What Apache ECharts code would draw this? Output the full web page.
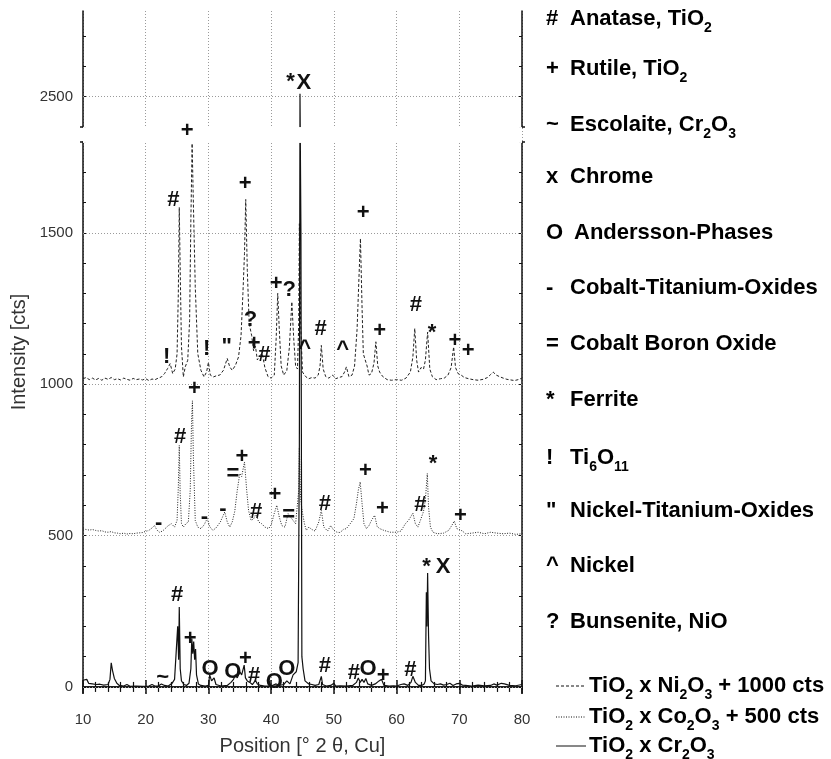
<!DOCTYPE html>
<html>
<head>
<meta charset="utf-8">
<script src="https://cdn.jsdelivr.net/npm/echarts@6/dist/echarts.min.js"></script>
<style>
  html, body { margin: 0; padding: 0; background: #fff; }
  #chart { width: 831px; height: 759px; }
</style>
</head>
<body>
<div id="chart"></div>
<script>
// offsets used for stacking the patterns (see legend)
const niOffset = 1000;
const coOffset = 500;

// TiO2 x Ni2O3, counts before the +1000 offset  [2theta, cts]
const niPattern = [
  [10.0, 18], [10.5, 22], [11.0, 15], [11.5, 20], [12.0, 14], [12.5, 19], [13.0, 13], [13.5, 20],
  [14.0, 16], [14.5, 22], [15.0, 15], [15.5, 18], [16.0, 14], [16.5, 20], [17.0, 16], [17.5, 13],
  [18.0, 19], [18.5, 15], [19.0, 17], [19.5, 14], [20.0, 18], [20.5, 12], [21.0, 17], [21.5, 15],
  [22.0, 20], [22.5, 24], [23.0, 35], [23.5, 52], [23.9, 68], [24.3, 35], [24.7, 50], [25.0, 100],
  [25.2, 300], [25.35, 584], [25.5, 376], [25.7, 125], [26.0, 24], [26.3, 57], [26.7, 79], [27.0, 211],
  [27.2, 542], [27.4, 795], [27.6, 597], [27.9, 322], [28.3, 101], [28.8, 46], [29.3, 24], [29.7, 40],
  [30.0, 72], [30.3, 30], [30.8, 24], [31.3, 28], [31.8, 30], [32.4, 46], [33.0, 85], [33.4, 57],
  [33.8, 46], [34.3, 62], [34.8, 90], [35.2, 160], [35.5, 300], [35.75, 432], [35.95, 610], [36.2, 376],
  [36.5, 200], [36.9, 160], [37.2, 110], [37.5, 125], [37.8, 80], [38.2, 95], [38.6, 100], [39.0, 55],
  [39.5, 25], [40.0, 20], [40.5, 30], [40.8, 150], [41.05, 300], [41.3, 180], [41.6, 60], [42.0, 30],
  [42.5, 45], [42.9, 120], [43.3, 272], [43.6, 150], [43.9, 60], [44.2, 50], [44.4, 200], [44.5, 530],
  [44.7, 200], [45.0, 40], [45.5, 25], [46.0, 18], [46.5, 22], [47.0, 20], [47.5, 30], [47.8, 60],
  [48.0, 128], [48.3, 50], [48.7, 25], [49.2, 20], [49.8, 30], [50.3, 18], [50.8, 22], [51.3, 25],
  [51.7, 40], [52.0, 57], [52.4, 25], [52.9, 30], [53.3, 60], [53.7, 180], [54.0, 350], [54.24, 481],
  [54.5, 250], [54.7, 100], [55.0, 80], [55.3, 60], [55.6, 30], [56.0, 35], [56.4, 70], [56.7, 140],
  [57.0, 60], [57.3, 40], [57.8, 25], [58.5, 15], [59.2, 13], [60.0, 15], [60.8, 13], [61.5, 20],
  [62.2, 40], [62.6, 90], [62.9, 184], [63.2, 80], [63.5, 40], [63.9, 55], [64.3, 50], [64.6, 80],
  [64.95, 172], [65.3, 50], [65.7, 25], [66.3, 15], [67.0, 18], [67.6, 20], [68.2, 30], [68.7, 55],
  [69.1, 123], [69.4, 55], [69.8, 35], [70.3, 30], [70.8, 22], [71.5, 18], [72.2, 15], [73.0, 13],
  [73.8, 16], [74.5, 22], [75.0, 32], [75.4, 40], [75.9, 30], [76.4, 25], [77.0, 20], [77.6, 16],
  [78.2, 14], [78.8, 12], [79.4, 15], [80.0, 20]
];

// TiO2 x Co2O3, counts before the +500 offset
const coPattern = [
  [10.0, 22], [10.5, 20], [11.0, 18], [11.5, 20], [12.0, 17], [12.5, 15], [13.0, 16], [13.5, 12],
  [14.0, 11], [14.5, 13], [15.0, 9], [15.5, 8], [16.0, 6], [16.5, 8], [17.0, 5], [17.5, 7],
  [18.0, 6], [18.5, 8], [19.0, 9], [19.5, 10], [20.0, 14], [20.5, 17], [21.0, 25], [21.4, 33],
  [21.8, 18], [22.2, 11], [22.7, 15], [23.2, 25], [23.6, 33], [24.1, 39], [24.6, 28], [25.0, 50],
  [25.2, 161], [25.35, 298], [25.5, 139], [25.7, 40], [26.0, 28], [26.4, 39], [26.8, 45], [27.1, 150],
  [27.3, 370], [27.45, 445], [27.6, 260], [27.9, 50], [28.3, 28], [28.8, 23], [29.3, 35], [29.8, 56],
  [30.2, 30], [30.7, 17], [31.2, 25], [31.9, 45], [32.6, 78], [33.0, 45], [33.4, 28], [33.8, 45],
  [34.2, 80], [34.6, 150], [35.0, 205], [35.3, 195], [35.75, 243], [36.1, 150], [36.4, 83], [36.8, 50],
  [37.2, 55], [37.6, 73], [38.0, 45], [38.5, 39], [39.0, 28], [39.6, 23], [40.0, 35], [40.5, 73],
  [40.9, 100], [41.3, 61], [41.7, 33], [42.2, 28], [42.7, 73], [43.1, 61], [43.5, 50], [43.9, 39],
  [44.2, 45], [44.4, 150], [44.5, 290], [44.7, 120], [45.0, 75], [45.3, 40], [45.6, 17], [46.0, 28],
  [46.5, 20], [47.0, 15], [47.6, 45], [48.0, 83], [48.4, 28], [49.0, 15], [49.5, 33], [50.0, 17],
  [50.5, 11], [51.0, 10], [51.5, 20], [52.0, 23], [52.6, 39], [53.2, 56], [53.6, 105], [53.9, 150],
  [54.2, 177], [54.5, 105], [54.8, 39], [55.2, 23], [55.6, 33], [56.0, 50], [56.5, 67], [56.9, 30],
  [57.3, 23], [58.0, 17], [59.0, 11], [60.0, 11], [60.7, 15], [61.4, 39], [61.9, 50], [62.6, 74],
  [63.0, 39], [63.4, 28], [63.8, 50], [64.3, 80], [64.6, 120], [64.9, 205], [65.1, 94], [65.4, 28],
  [65.8, 11], [66.5, 6], [67.5, 8], [68.3, 17], [68.8, 33], [69.2, 48], [69.6, 23], [70.0, 20],
  [70.5, 15], [71.0, 6], [72.0, 8], [73.0, 11], [74.0, 6], [75.0, 11], [76.0, 8], [77.0, 6],
  [78.0, 8], [79.0, 4], [80.0, 6]
];

// TiO2 x Cr2O3, no offset
const crPattern = [
  [10.0, 22], [10.3, 18], [10.6, 25], [10.9, 12], [11.2, 18], [11.5, 10], [11.8, 15], [12.1, 8],
  [12.4, 14], [12.7, 9], [13.0, 12], [13.3, 6], [13.6, 10], [14.0, 8], [14.3, 25], [14.5, 80],
  [14.7, 55], [15.0, 28], [15.4, 12], [15.8, 5], [16.5, 3], [17.0, 8], [17.5, 2], [18.5, 3],
  [19.5, 2], [20.5, 3], [21.0, 8], [21.4, 4], [22.0, 3], [22.5, 10], [23.0, 5], [23.6, 3],
  [24.2, 12], [24.6, 25], [24.9, 30], [25.1, 200], [25.25, 90], [25.35, 264], [25.5, 60], [25.7, 20],
  [26.1, 8], [26.5, 5], [26.9, 12], [27.2, 60], [27.35, 160], [27.5, 110], [27.65, 150], [27.8, 90],
  [27.95, 125], [28.1, 40], [28.4, 10], [28.8, 5], [29.5, 3], [30.0, 5], [30.2, 40], [30.5, 20],
  [30.9, 30], [31.2, 8], [32.0, 3], [33.0, 5], [33.6, 15], [34.0, 25], [34.3, 40], [34.6, 30],
  [35.0, 50], [35.3, 40], [35.7, 72], [35.9, 30], [36.2, 20], [36.6, 15], [37.0, 8], [37.5, 22],
  [37.8, 10], [38.3, 5], [39.0, 3], [40.0, 3], [40.8, 10], [41.3, 5], [42.0, 8], [42.5, 20],
  [43.0, 10], [43.5, 40], [44.0, 50], [44.3, 80], [44.5, 800], [44.6, 2510], [44.75, 1500], [44.9, 100],
  [45.1, 60], [45.4, 20], [46.0, 10], [46.5, 8], [47.0, 5], [47.6, 8], [48.0, 35], [48.2, 8],
  [48.8, 3], [49.5, 5], [50.0, 12], [50.3, 3], [51.0, 4], [52.0, 3], [53.0, 5], [53.6, 15],
  [53.9, 30], [54.2, 15], [54.5, 25], [54.8, 15], [55.1, 28], [55.4, 10], [56.0, 5], [56.6, 10],
  [57.2, 20], [57.6, 25], [58.0, 5], [58.8, 3], [59.5, 4], [60.0, 3], [60.7, 8], [61.2, 10],
  [61.8, 5], [62.3, 15], [62.6, 35], [63.0, 15], [63.5, 5], [64.0, 5], [64.4, 10], [64.6, 20],
  [64.75, 313], [64.85, 200], [64.95, 376], [65.1, 170], [65.25, 60], [65.5, 20], [66.0, 10], [66.5, 8],
  [67.0, 10], [67.5, 6], [68.0, 8], [68.5, 12], [69.0, 5], [69.5, 10], [70.0, 12], [70.5, 6],
  [71.0, 5], [72.0, 3], [73.0, 6], [74.0, 4], [75.0, 5], [75.5, 10], [76.0, 6], [76.7, 12],
  [77.2, 10], [78.0, 5], [79.0, 4], [80.0, 8]
];

// phase marks placed over the peaks  [2theta, cts as plotted, symbol]
const niMarks = [
  [23.35, 1090, '!'], [24.4, 1608, '#'], [26.6, 1800, '+'], [29.7, 1118, '!'], [32.9, 1123, '"'],
  [35.85, 1663, '+'], [36.7, 1211, '?'], [37.3, 1132, '+'], [38.9, 1095, '#'], [40.8, 1332, '+'],
  [42.9, 1310, '?'], [45.36, 1118, '^'], [47.9, 1184, '#'], [51.4, 1112, '^'], [54.66, 1564, '+'],
  [57.3, 1176, '+'], [63.06, 1261, '#'], [65.66, 1170, '*'], [69.3, 1143, '+'], [71.4, 1110, '+']
];
const coMarks = [
  [22.07, 541, '-'], [25.47, 826, '#'], [27.75, 985, '+'], [29.36, 561, '-'], [32.3, 589, '-'],
  [33.9, 705, '='], [35.36, 760, '+'], [37.6, 578, '#'], [40.6, 633, '+'], [42.8, 567, '='],
  [48.55, 606, '#'], [55.04, 713, '+'], [57.75, 589, '+'], [63.8, 600, '#'], [65.8, 735, '*'],
  [70.2, 565, '+']
];
const crMarks = [
  [22.7, 31, '~'], [25.0, 303, '#'], [27.07, 160, '+'], [30.26, 60, 'O'], [33.87, 49, 'O'],
  [35.9, 93, '+'], [37.3, 38, '#'], [40.5, 16, 'O'], [42.5, 60, 'O'], [48.55, 68, '#'],
  [53.2, 46, '#'], [55.45, 60, 'O'], [57.85, 38, '+'], [62.2, 57, '#'], [64.77, 396, '*'],
  [67.4, 398, 'X'], [43.1, 2548, '*'], [45.2, 2545, 'X']
];

const yLabelValues = [0, 500, 1000, 1500, 2500];
const yTickValues = [0, 100, 200, 300, 400, 500, 600, 700, 800, 900, 1000, 1100, 1200, 1300, 1400,
  1500, 1600, 1700, 1800, 2400, 2500, 2600, 2700];
const yBreakStart = 1800, yBreakEnd = 2400;

const phaseSymbols = ['#', '+', '~', 'x', 'O', '-', '=', '*', '!', '"', '^', '?'];
const phaseNames = [
  'Anatase, TiO{s|2}', 'Rutile, TiO{s|2}', 'Escolaite, Cr{s|2}O{s|3}', 'Chrome',
  'Andersson-Phases', 'Cobalt-Titanium-Oxides', 'Cobalt Boron Oxide', 'Ferrite',
  'Ti{s|6}O{s|11}', 'Nickel-Titanium-Oxides', 'Nickel', 'Bunsenite, NiO'
];
const sampleNames = [
  'TiO{s|2} x Ni{s|2}O{s|3} + 1000 cts',
  'TiO{s|2} x Co{s|2}O{s|3} + 500 cts',
  'TiO{s|2} x Cr{s|2}O{s|3}'
];

// legend layout (pixel rows of the text block on the right)
const phaseRowY = [19, 69, 125, 180, 236, 291, 347, 403, 458, 514, 569, 625];
const sampleRowY = [686, 717, 746];

const FONT = '"Liberation Sans", Arial, Helvetica, sans-serif';
const INK = '#111';
const LABEL_INK = '#333';

const shift = (pts, off) => pts.map(p => [p[0], p[1] + off]);
const markData = list => list.map(m => {
  const item = { value: [m[0], m[1]], name: m[2] };
  // a mark sitting on the break edge is drawn above its point
  if (m[1] >= yBreakStart && m[1] < yBreakEnd) item.label = { position: 'top', distance: 0 };
  return item;
});
// wrap plain parts as {n|..} so every token shares one line box
const toRich = s => s.split(/(\{s\|[^}]*\})/).filter(Boolean)
  .map(part => part.startsWith('{s|') ? part : '{n|' + part + '}').join('');
const legendRich = {
  sym: { fontSize: 22, fontWeight: 'bold', fontFamily: FONT, lineHeight: 28, verticalAlign: 'middle', color: INK, width: 24 },
  symO: { fontSize: 22, fontWeight: 'bold', fontFamily: FONT, lineHeight: 28, verticalAlign: 'middle', color: INK, width: 28 },
  n: { fontSize: 22, fontWeight: 'bold', fontFamily: FONT, lineHeight: 28, verticalAlign: 'middle', color: INK },
  s: { fontSize: 14, fontWeight: 'bold', fontFamily: FONT, lineHeight: 12, padding: [16, 0, 0, 0], verticalAlign: 'top', color: INK }
};

const chart = echarts.init(document.getElementById('chart'));

const breakCfg = {
  breaks: [{ start: yBreakStart, end: yBreakEnd, gap: '2.2%' }],
  breakArea: {
    show: true,
    itemStyle: { color: '#fff', borderWidth: 0, opacity: 1 },
    zigzagAmplitude: 0,
    zigzagZ: 50,
    expandOnClick: false
  }
};

const xBase = { type: 'value', min: 10, max: 80, interval: 10 };
const yBase = Object.assign({ type: 'value', min: -20, max: 2783, splitLine: { show: false } }, breakCfg);

function markSeries(list) {
  return {
    type: 'scatter',
    xAxisIndex: 0, yAxisIndex: 0,
    symbol: 'circle',
    symbolSize: 1,
    silent: true,
    z: 200,
    itemStyle: { opacity: 0 },
    data: markData(list),
    label: {
      show: true,
      position: 'inside',
      formatter: p => p.name,
      opacity: 1,
      color: INK,
      fontFamily: FONT,
      fontWeight: 'bold',
      fontSize: 22
    },
    labelLayout: { hideOverlap: false }
  };
}

const legendGraphics = [];
phaseSymbols.forEach((sym, i) => {
  const symStyle = sym === 'O' ? 'symO' : 'sym';
  legendGraphics.push({
    type: 'text', left: 546, top: phaseRowY[i] - 14,
    style: { text: '{' + symStyle + '|' + sym + '}' + toRich(phaseNames[i]), rich: legendRich }
  });
});
const sampleDash = [[3, 2], [1, 1.5], null];
sampleNames.forEach((txt, i) => {
  const y = sampleRowY[i];
  legendGraphics.push({
    type: 'line', shape: { x1: 556, y1: y, x2: 586, y2: y },
    style: { stroke: INK, lineWidth: 1, lineDash: sampleDash[i] }
  });
  legendGraphics.push({
    type: 'text', left: 589, top: y - 14,
    style: { text: toRich(txt), rich: legendRich }
  });
});

const gridBox = { left: 83, right: 309, top: 11, bottom: 66, outerBoundsMode: 'none' };

chart.setOption({
  animation: false,
  backgroundColor: '#fff',
  grid: [Object.assign({}, gridBox), Object.assign({}, gridBox)],
  xAxis: [
    Object.assign({}, xBase, {
      gridIndex: 0, position: 'bottom',
      axisLine: { lineStyle: { color: INK, width: 1.5 } },
      axisTick: { length: 7, lineStyle: { color: INK, width: 1.5 } },
      minorTick: { show: true, splitNumber: 5, length: 5, lineStyle: { color: INK, width: 1.2 } },
      axisLabel: { margin: 19, fontSize: 15, color: LABEL_INK, fontFamily: FONT },
      splitLine: { show: true, lineStyle: { type: [1, 2], color: '#9a9a9a' } },
      name: 'Position [° 2 θ, Cu]', nameLocation: 'middle', nameGap: 43, nameMoveOverlap: false,
      nameTextStyle: { fontSize: 20, color: LABEL_INK, fontFamily: FONT }
    }),
    Object.assign({}, xBase, {
      gridIndex: 0, position: 'top',
      axisLine: { lineStyle: { color: INK, width: 1.5 } },
      axisTick: { inside: true, length: 3, lineStyle: { color: INK } },
      minorTick: { show: true, splitNumber: 5, length: 3, lineStyle: { color: INK } },
      axisLabel: { show: false }, splitLine: { show: false }
    }),
    Object.assign({}, xBase, {
      gridIndex: 1, position: 'bottom',
      axisLine: { show: false },
      axisTick: { inside: true, length: 7, lineStyle: { color: INK, width: 1.5 } },
      minorTick: { show: true, splitNumber: 5, length: 5, lineStyle: { color: INK, width: 1.2 } },
      axisLabel: { show: false }, splitLine: { show: false }
    })
  ],
  yAxis: [
    Object.assign({}, yBase, {
      gridIndex: 0, position: 'left',
      axisLine: { show: true, lineStyle: { color: INK, width: 1.5 } },
      axisTick: { show: true, inside: true, length: 3, customValues: yTickValues, lineStyle: { color: INK } },
      axisLabel: {
        customValues: yLabelValues, formatter: v => String(v),
        margin: 10, fontSize: 15, color: LABEL_INK, fontFamily: FONT
      },
      name: 'Intensity [cts]', nameLocation: 'middle', nameGap: 54, nameMoveOverlap: false,
      nameTextStyle: { fontSize: 20, color: LABEL_INK, fontFamily: FONT }
    }),
    Object.assign({}, yBase, {
      gridIndex: 0, position: 'right',
      axisLine: { show: true, lineStyle: { color: INK, width: 1.5 } },
      axisTick: { show: true, inside: true, length: 3, customValues: yTickValues, lineStyle: { color: INK } },
      axisLabel: { show: false }
    }),
    Object.assign({}, yBase, {
      gridIndex: 1, position: 'left',
      axisLine: { show: false },
      axisTick: { show: true, length: 3, customValues: [yBreakStart, yBreakEnd], lineStyle: { color: INK, width: 1.5 } },
      axisLabel: { show: false }
    }),
    Object.assign({}, yBase, {
      gridIndex: 1, position: 'right',
      axisLine: { show: false },
      axisTick: { show: true, length: 3, customValues: [yBreakStart, yBreakEnd], lineStyle: { color: INK, width: 1.5 } },
      axisLabel: { show: false }
    })
  ],
  series: [
    {
      name: 'TiO2 x Cr2O3', type: 'line', xAxisIndex: 0, yAxisIndex: 0,
      data: crPattern, showSymbol: false, silent: true, z: 5,
      lineStyle: { color: INK, width: 1.2 },
      markLine: {
        silent: true, symbol: 'none', label: { show: false }, z: 1,
        lineStyle: { type: [1, 2], color: '#9a9a9a', width: 1 },
        data: yLabelValues.map(v => ({ yAxis: v }))
      }
    },
    {
      name: 'TiO2 x Co2O3', type: 'line', xAxisIndex: 0, yAxisIndex: 0,
      data: shift(coPattern, coOffset), showSymbol: false, silent: true, z: 4,
      lineStyle: { color: '#222', width: 1, type: [1, 1.5] }
    },
    {
      name: 'TiO2 x Ni2O3', type: 'line', xAxisIndex: 0, yAxisIndex: 0,
      data: shift(niPattern, niOffset), showSymbol: false, silent: true, z: 4,
      lineStyle: { color: '#222', width: 1, type: [3, 2] }
    },
    markSeries(niMarks),
    markSeries(coMarks),
    markSeries(crMarks)
  ],
  graphic: legendGraphics
});
</script>
</body>
</html>
